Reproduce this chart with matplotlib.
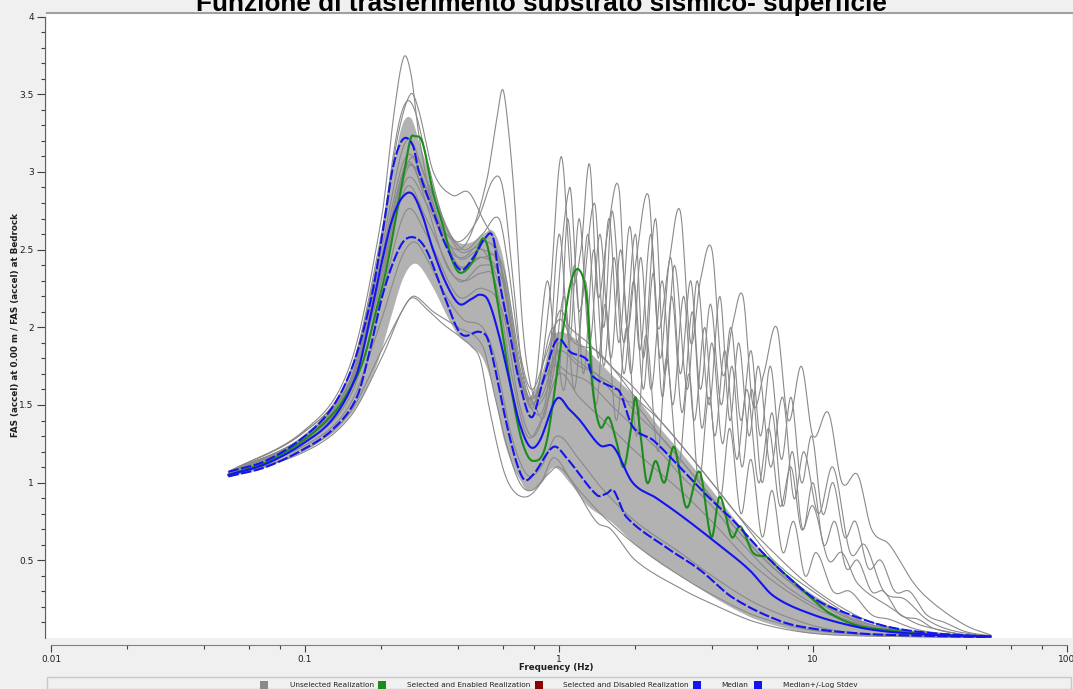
import numpy as np
import matplotlib
matplotlib.use("Agg")
import matplotlib.pyplot as plt
from matplotlib.patches import Rectangle
from matplotlib.ticker import FixedLocator, NullFormatter

# ---------------- data ----------------
title = "Funzione di trasferimento substrato sismico- superficie"
xlabel = "Frequency (Hz)"
ylabel = "FAS (accel) at 0.00 m / FAS (accel) at Bedrock"
x_ticks = [0.01, 0.1, 1, 10, 100]
x_tick_labels = ["0.01", "0.1", "1", "10", "100"]
y_ticks = [0.5, 1, 1.5, 2, 2.5, 3, 3.5, 4]
y_tick_labels = ["0.5", "1", "1.5", "2", "2.5", "3", "3.5", "4"]
legend_labels = ["Unselected Realization", "Selected and Enabled Realization",
                 "Selected and Disabled Realization", "Median", "Median+/-Log Stdev"]

# dense band of unselected realizations
band_freq = [0.05, 0.07, 0.1, 0.13, 0.16, 0.19, 0.22, 0.24, 0.26, 0.28, 0.32, 0.36, 0.40,
             0.45, 0.50, 0.55, 0.60, 0.65, 0.70, 0.75, 0.85, 0.95, 1.1, 1.3, 1.6, 2.0,
             2.5, 3.0, 4.0, 5.0, 6.0, 8.0, 10, 15, 20, 30, 50]
band_low = [1.04, 1.10, 1.22, 1.33, 1.50, 1.75, 2.10, 2.30, 2.40, 2.40, 2.25, 2.08, 1.95,
            1.88, 1.80, 1.60, 1.30, 1.12, 1.02, 0.95, 1.00, 1.10, 1.00, 0.85, 0.75, 0.60,
            0.48, 0.40, 0.27, 0.18, 0.12, 0.06, 0.03, 0.015, 0.01, 0.007, 0.005]
band_high = [1.07, 1.15, 1.32, 1.52, 1.85, 2.40, 3.00, 3.30, 3.35, 3.20, 2.90, 2.65, 2.55,
             2.55, 2.60, 2.62, 2.45, 2.10, 1.75, 1.55, 1.70, 1.95, 1.95, 1.85, 1.70, 1.55,
             1.35, 1.20, 0.95, 0.75, 0.60, 0.40, 0.28, 0.12, 0.07, 0.03, 0.01]

# individual unselected realizations
gA_freq = [0.05, 0.1, 0.15, 0.2, 0.225, 0.245, 0.262, 0.28, 0.32, 0.37, 0.42, 0.5, 0.58,
           0.65, 0.72, 0.8, 0.9, 1.0, 1.2, 1.4, 1.7, 2.0, 2.5, 3, 4, 5, 7, 10, 15, 20, 30, 50]
gA_val = [1.07, 1.34, 1.75, 2.7, 3.4, 3.74, 3.62, 3.25, 2.75, 2.5, 2.45, 2.55, 2.45,
          2.0, 1.6, 1.55, 1.7, 1.85, 1.75, 1.7, 1.55, 1.5, 1.3, 1.15, 0.9, 0.7, 0.45, 0.25,
          0.1, 0.05, 0.02, 0.01]
gB_freq = [0.05, 0.1, 0.15, 0.2, 0.23, 0.26, 0.28, 0.32, 0.38, 0.44, 0.5, 0.57, 0.63, 0.7,
           0.78, 0.88, 1.0, 1.1, 1.3, 1.6, 2.0, 2.5, 3, 4, 5, 7, 10, 15, 20, 30, 50]
gB_val = [1.07, 1.33, 1.7, 2.55, 3.2, 3.5, 3.4, 3.0, 2.85, 2.87, 2.7, 2.5, 2.1, 1.7,
          1.5, 1.7, 2.1, 2.0, 1.9, 1.75, 1.6, 1.4, 1.25, 1.0, 0.8, 0.5, 0.3, 0.12, 0.06,
          0.025, 0.01]
gC_freq = [0.05, 0.1, 0.15, 0.2, 0.24, 0.27, 0.3, 0.35, 0.4, 0.45, 0.52, 0.57, 0.6, 0.63,
           0.67, 0.72, 0.78, 0.85, 0.95, 1.1, 1.3, 1.6, 2.0, 2.5, 3, 4, 5, 7, 10, 15, 20, 30, 50]
gC_val = [1.07, 1.3, 1.65, 2.3, 2.95, 3.1, 2.95, 2.6, 2.5, 2.6, 2.95, 3.35, 3.53, 3.3,
          2.8, 2.0, 1.6, 1.55, 1.75, 1.7, 1.65, 1.5, 1.35, 1.2, 1.05, 0.85, 0.65, 0.4,
          0.22, 0.09, 0.04, 0.015, 0.005]
gD_freq = [0.05, 0.1, 0.15, 0.2, 0.24, 0.265, 0.3, 0.35, 0.4, 0.45, 0.49, 0.53, 0.6, 0.66,
           0.75, 0.85, 0.95, 1.1, 1.4, 1.6, 2, 3, 4, 6, 10, 20, 50]
gD_val = [1.04, 1.2, 1.42, 1.8, 2.1, 2.19, 2.12, 2.02, 1.95, 1.88, 1.79, 1.49, 1.1, 0.95,
          0.91, 1.0, 1.16, 1.03, 0.75, 0.7, 0.5, 0.32, 0.22, 0.1, 0.03, 0.01, 0.003]
gF_freq = [0.05, 0.1, 0.15, 0.2, 0.25, 0.3, 0.4, 0.5, 0.6, 0.7, 0.8, 0.92, 1.02, 1.12,
           1.22, 1.32, 1.42, 1.55, 1.72, 1.85, 2.0, 2.25, 2.45, 2.7, 3.0, 3.3, 3.6, 4.0,
           4.4, 4.8, 5.3, 5.8, 6.4, 7.2, 8, 9, 10, 11.5, 13, 15, 17, 20, 25, 30, 40, 50]
gF_val = [1.06, 1.28, 1.6, 2.3, 2.9, 2.7, 2.3, 2.4, 2.3, 1.7, 1.5, 2.2, 3.1, 2.3,
          2.5, 3.05, 2.2, 2.6, 2.9, 2.0, 2.4, 2.85, 2.0, 2.4, 2.75, 1.9, 2.3, 2.5,
          1.7, 2.0, 2.2, 1.5, 1.7, 2.0, 1.4, 1.75, 1.3, 1.45, 1.0, 1.05, 0.7, 0.6, 0.35,
          0.22, 0.08, 0.02]
gG_freq = [0.05, 0.1, 0.15, 0.2, 0.25, 0.3, 0.4, 0.5, 0.6, 0.7, 0.8, 0.9, 1.0, 1.1, 1.2,
           1.32, 1.45, 1.6, 1.75, 1.92, 2.1, 2.3, 2.55, 2.8, 3.1, 3.4, 3.75, 4.1, 4.5, 5.0,
           5.5, 6.1, 6.7, 7.4, 8.2, 9, 10, 11.5, 13, 15, 20, 25, 30, 40, 50]
gG_val = [1.06, 1.3, 1.62, 2.4, 3.05, 2.85, 2.45, 2.5, 2.35, 1.75, 1.45, 1.6, 2.6, 1.9, 2.7,
          1.9, 2.6, 1.8, 2.5, 1.7, 2.45, 1.6, 2.3, 1.5, 2.2, 1.4, 2.0, 1.3, 1.85, 1.15,
          1.6, 1.0, 1.35, 0.85, 1.1, 0.7, 0.85, 0.5, 0.55, 0.35, 0.2, 0.1, 0.06, 0.02, 0.01]
gH_freq = [0.05, 0.1, 0.15, 0.2, 0.25, 0.3, 0.4, 0.5, 0.6, 0.7, 0.8, 0.95, 1.05, 1.15,
           1.27, 1.4, 1.52, 1.68, 1.85, 2.02, 2.2, 2.45, 2.65, 2.95, 3.25, 3.55, 3.9, 4.3,
           4.7, 5.2, 5.7, 6.3, 6.9, 7.6, 8.4, 9.3, 10.3, 12, 14, 17, 20, 25, 30, 40, 50]
gH_val = [1.05, 1.27, 1.55, 2.2, 2.75, 2.6, 2.2, 2.25, 2.1, 1.5, 1.3, 1.7, 2.2, 1.6,
          2.3, 1.5, 2.15, 1.4, 2.0, 1.3, 1.95, 1.2, 1.8, 1.1, 1.7, 1.0, 1.55, 0.9,
          1.35, 0.8, 1.15, 0.65, 0.95, 0.55, 0.75, 0.4, 0.55, 0.3, 0.3, 0.15, 0.12, 0.06,
          0.035, 0.015, 0.01]
gI_freq = [0.05, 0.1, 0.15, 0.2, 0.25, 0.3, 0.4, 0.5, 0.6, 0.7, 0.8, 0.9, 1.1, 1.2, 1.38,
           1.5, 1.62, 1.8, 2.0, 2.15, 2.4, 2.6, 2.85, 3.2, 3.5, 3.9, 4.3, 4.7, 5.1, 5.6,
           6.1, 6.8, 7.6, 8.4, 9.2, 10.5, 12, 14, 16, 19, 23, 28, 35, 50]
gI_val = [1.06, 1.29, 1.63, 2.45, 3.1, 2.9, 2.4, 2.45, 2.4, 1.8, 1.5, 1.5, 2.9, 2.1, 2.8,
          2.0, 2.75, 1.9, 2.6, 1.8, 2.7, 1.7, 2.4, 1.6, 2.3, 1.5, 2.2, 1.4, 1.9, 1.3,
          1.75, 1.1, 1.55, 0.9, 1.2, 0.8, 1.1, 0.55, 0.6, 0.3, 0.25, 0.12, 0.05, 0.01]
gJ_freq = [0.05, 0.1, 0.15, 0.2, 0.23, 0.26, 0.3, 0.36, 0.42, 0.5, 0.56, 0.65, 0.75, 0.85,
           1.0, 1.2, 1.5, 2, 3, 4, 6, 10, 15, 20, 30, 50]
gJ_val = [1.06, 1.28, 1.6, 2.35, 2.85, 3.05, 2.8, 2.4, 2.3, 2.35, 2.3, 1.7, 1.3, 1.4,
          1.7, 1.55, 1.4, 1.2, 0.95, 0.75, 0.45, 0.2, 0.09, 0.05, 0.02, 0.008]
gK_freq = [0.05, 0.1, 0.15, 0.2, 0.24, 0.27, 0.3, 0.36, 0.42, 0.5, 0.56, 0.65, 0.75, 0.85,
           0.98, 1.2, 1.5, 2, 3, 4, 6, 10, 15, 20, 50]
gK_val = [1.05, 1.24, 1.5, 2.05, 2.45, 2.55, 2.45, 2.2, 2.05, 2.0, 1.8, 1.3, 1.05, 1.1,
          1.3, 1.15, 0.95, 0.75, 0.55, 0.4, 0.22, 0.08, 0.03, 0.02, 0.004]
gL_freq = [0.05, 0.1, 0.15, 0.2, 0.25, 0.27, 0.32, 0.4, 0.5, 0.56, 0.62, 0.7, 0.78, 0.9,
           1.0, 1.2, 1.5, 2, 3, 4, 6, 10, 20, 50]
gL_val = [1.04, 1.21, 1.45, 1.85, 2.15, 2.2, 2.1, 2.0, 1.88, 1.55, 1.25, 1.0, 0.95, 1.05,
          1.1, 0.95, 0.78, 0.6, 0.4, 0.28, 0.14, 0.05, 0.015, 0.004]
gM_freq = [0.05, 0.1, 0.15, 0.2, 0.23, 0.25, 0.27, 0.3, 0.35, 0.42, 0.5, 0.58, 0.63, 0.7,
           0.78, 0.88, 1.0, 1.15, 1.4, 1.7, 2, 2.5, 3, 4, 5, 7, 10, 15, 20, 30, 50]
gM_val = [1.07, 1.33, 1.7, 2.6, 3.25, 3.45, 3.4, 3.1, 2.7, 2.5, 2.6, 2.7, 2.4, 1.85,
          1.6, 1.8, 2.05, 1.9, 1.85, 1.7, 1.55, 1.4, 1.25, 1.0, 0.8, 0.55, 0.32, 0.14,
          0.07, 0.03, 0.01]
gN_freq = [0.05, 0.1, 0.15, 0.2, 0.25, 0.28, 0.33, 0.4, 0.48, 0.55, 0.6, 0.66, 0.72, 0.8,
           0.9, 1.0, 1.15, 1.4, 1.7, 2, 2.5, 3, 4, 5, 7, 10, 15, 20, 30, 50]
gN_val = [1.07, 1.3, 1.65, 2.35, 3.0, 3.0, 2.7, 2.55, 2.7, 2.95, 2.9, 2.3, 1.7, 1.5,
          1.6, 1.9, 1.8, 1.7, 1.6, 1.45, 1.3, 1.15, 0.9, 0.7, 0.45, 0.26, 0.11, 0.06,
          0.025, 0.01]
gO_freq = [0.05, 0.1, 0.15, 0.2, 0.25, 0.3, 0.4, 0.5, 0.6, 0.7, 0.8, 0.95, 1.05, 1.15,
           1.25, 1.37, 1.5, 1.65, 1.8, 1.97, 2.15, 2.35, 2.55, 2.78, 3.05, 3.35, 3.65, 4.0,
           4.4, 4.8, 5.25, 5.75, 6.3, 6.9, 7.6, 8.3, 9.1, 10, 11, 12.2, 13.5, 15, 17, 19,
           22, 26, 30, 40, 50]
gO_val = [1.06, 1.29, 1.62, 2.35, 2.95, 2.8, 2.4, 2.45, 2.3, 1.7, 1.55, 2.0, 1.6, 2.4,
          1.7, 2.5, 1.75, 2.45, 1.7, 2.3, 1.6, 2.35, 1.55, 2.2, 1.45, 2.1, 1.35, 1.9,
          1.25, 1.75, 1.1, 1.6, 1.0, 1.45, 0.85, 1.2, 0.7, 1.0, 0.6, 0.75, 0.45, 0.5, 0.3,
          0.3, 0.15, 0.12, 0.06, 0.02, 0.01]
gP_freq = [0.05, 0.1, 0.15, 0.2, 0.25, 0.3, 0.4, 0.5, 0.6, 0.7, 0.8, 0.9, 1.0, 1.08,
           1.18, 1.3, 1.43, 1.57, 1.72, 1.9, 2.08, 2.3, 2.5, 2.75, 3.0, 3.3, 3.6, 3.95,
           4.35, 4.75, 5.2, 5.7, 6.2, 6.8, 7.5, 8.2, 9.0, 9.9, 10.9, 12, 13.3, 14.7, 16.5,
           18.5, 21, 24, 28, 33, 40, 50]
gP_val = [1.06, 1.3, 1.65, 2.5, 3.2, 2.95, 2.5, 2.5, 2.2, 1.65, 1.6, 2.3, 1.7, 2.7,
          1.9, 2.6, 1.8, 2.7, 1.9, 2.65, 1.85, 2.6, 1.8, 2.45, 1.7, 2.3, 1.6, 2.15,
          1.5, 2.0, 1.4, 1.85, 1.3, 1.75, 1.15, 1.55, 1.0, 1.3, 0.8, 1.0, 0.65, 0.75, 0.45,
          0.5, 0.3, 0.3, 0.15, 0.1, 0.04, 0.015]
gray_curves = [(gA_freq, gA_val), (gB_freq, gB_val), (gC_freq, gC_val),
               (gD_freq, gD_val), (gF_freq, gF_val), (gG_freq, gG_val),
               (gH_freq, gH_val), (gI_freq, gI_val), (gJ_freq, gJ_val),
               (gK_freq, gK_val), (gL_freq, gL_val), (gM_freq, gM_val),
               (gN_freq, gN_val), (gO_freq, gO_val), (gP_freq, gP_val)]

# selected realization (green)
green_freq = [0.05, 0.07, 0.1, 0.13, 0.15, 0.17, 0.19, 0.21, 0.237, 0.26, 0.27, 0.29, 0.32,
              0.35, 0.38, 0.41, 0.46, 0.50, 0.527, 0.585, 0.66, 0.72, 0.79, 0.89, 1.01,
              1.11, 1.20, 1.29, 1.35, 1.45, 1.57, 1.68, 1.80, 1.91, 2.0, 2.09, 2.22, 2.40,
              2.60, 2.84, 3.17, 3.58, 3.98, 4.29, 4.78, 5.17, 5.8, 6.6, 7.4, 8.3, 9.8,
              11.6, 15, 20, 30, 50]
green_val = [1.05, 1.13, 1.28, 1.45, 1.60, 1.79, 2.10, 2.39, 2.86, 3.21, 3.23, 3.19, 2.86,
             2.65, 2.43, 2.35, 2.43, 2.57, 2.50, 2.07, 1.53, 1.25, 1.14, 1.25, 1.85,
             2.28, 2.37, 2.17, 1.64, 1.36, 1.42, 1.27, 1.10, 1.32, 1.55, 1.32, 1.00, 1.14,
             1.00, 1.23, 0.84, 1.07, 0.65, 0.91, 0.65, 0.72, 0.55, 0.52, 0.44, 0.37, 0.26,
             0.16, 0.08, 0.05, 0.02, 0.01]

# median
median_freq = [0.05, 0.07, 0.1, 0.13, 0.16, 0.18, 0.2, 0.22, 0.24, 0.264, 0.29, 0.319, 0.36,
               0.405, 0.45, 0.489, 0.527, 0.58, 0.641, 0.70, 0.77, 0.84, 0.98, 1.1, 1.21,
               1.45, 1.64, 1.95, 2.42, 3.07, 4.18, 5.6, 7.0, 10, 15, 20, 30, 50]
median_val = [1.05, 1.12, 1.26, 1.42, 1.70, 2.05, 2.41, 2.69, 2.83, 2.86, 2.72, 2.50, 2.28,
              2.15, 2.18, 2.21, 2.17, 1.95, 1.64, 1.38, 1.23, 1.27, 1.54, 1.47, 1.40,
              1.24, 1.23, 1.00, 0.90, 0.78, 0.61, 0.44, 0.27, 0.15, 0.07, 0.04, 0.02, 0.01]

# median + log stdev
upper_freq = [0.05, 0.07, 0.1, 0.13, 0.157, 0.184, 0.203, 0.222, 0.243, 0.266, 0.28, 0.319,
              0.36, 0.41, 0.46, 0.51, 0.55, 0.585, 0.64, 0.70, 0.78, 0.86, 0.98, 1.11, 1.29,
              1.35, 1.64, 1.74, 1.95, 2.36, 3.07, 3.86, 4.83, 6.6, 10, 14, 20, 30, 50]
upper_val = [1.07, 1.14, 1.30, 1.50, 1.79, 2.22, 2.63, 3.03, 3.21, 3.17, 3.01, 2.75,
             2.52, 2.37, 2.45, 2.57, 2.58, 2.28, 1.96, 1.64, 1.42, 1.64, 1.92, 1.84, 1.79,
             1.69, 1.61, 1.58, 1.36, 1.27, 1.08, 0.91, 0.76, 0.52, 0.26, 0.15, 0.07, 0.03, 0.01]

# median - log stdev
lower_freq = [0.05, 0.07, 0.1, 0.13, 0.16, 0.18, 0.203, 0.237, 0.266, 0.30, 0.35, 0.41, 0.49,
              0.53, 0.64, 0.72, 0.79, 0.95, 1.07, 1.41, 1.54, 1.64, 1.84, 2.66, 3.58, 4.83,
              7.4, 10, 15, 20, 50]
lower_val = [1.04, 1.10, 1.22, 1.35, 1.55, 1.85, 2.22, 2.52, 2.58, 2.50, 2.22, 1.96, 1.97,
             1.90, 1.29, 1.03, 1.05, 1.23, 1.16, 0.92, 0.93, 0.95, 0.78, 0.58, 0.44, 0.26,
             0.11, 0.06, 0.03, 0.02, 0.005]


def smooth(freq, vals, n=12):
    """Cubic Hermite curve through the read points (in log-frequency), for drawing only."""
    x = np.log10(np.asarray(freq, float))
    y = np.asarray(vals, float)
    m = np.empty_like(y)
    m[1:-1] = (y[2:] - y[:-2]) / (x[2:] - x[:-2])
    m[0] = (y[1] - y[0]) / (x[1] - x[0])
    m[-1] = (y[-1] - y[-2]) / (x[-1] - x[-2])
    xs, ys = [], []
    for i in range(len(x) - 1):
        h = x[i + 1] - x[i]
        t = np.linspace(0, 1, n, endpoint=False)
        h00 = 2 * t ** 3 - 3 * t ** 2 + 1
        h10 = t ** 3 - 2 * t ** 2 + t
        h01 = -2 * t ** 3 + 3 * t ** 2
        h11 = t ** 3 - t ** 2
        xs.append(x[i] + t * h)
        ys.append(h00 * y[i] + h10 * h * m[i] + h01 * y[i + 1] + h11 * h * m[i + 1])
    xs.append([x[-1]])
    ys.append([y[-1]])
    return 10 ** np.concatenate(xs), np.clip(np.concatenate(ys), 0.0, None)


# ---------------- figure ----------------
W, H = 1073, 689
BG = "#f0f0f0"
GRAY = "#8a8a8a"
GREEN = "#1c8c1c"
BLUE = "#1414ee"
DARKRED = "#8b0000"

fig = plt.figure(figsize=(W / 100, H / 100), dpi=100, facecolor=BG)
ax = fig.add_axes([47 / W, 1 - 638 / H, (1072 - 47) / W, (638 - 13) / H])
ax.set_facecolor("white")
ax.set_xscale("log")
ax.set_xlim(10 ** -2.01575, 10 ** 2.0197)
ax.set_ylim(0, 4.023)

bf, bl = smooth(band_freq, band_low)
_, bh = smooth(band_freq, band_high)
ax.fill_between(bf, bl, bh, color="#b2b2b2", lw=0, zorder=1)
for f, v in gray_curves:
    sx, sy = smooth(f, v)
    ax.plot(sx, sy, color=GRAY, lw=0.8, zorder=2)
sx, sy = smooth(green_freq, green_val)
ax.plot(sx, sy, color=GREEN, lw=1.5, zorder=3)
sx, sy = smooth(median_freq, median_val)
ax.plot(sx, sy, color=BLUE, lw=1.5, zorder=4)
for f, v in ((upper_freq, upper_val), (lower_freq, lower_val)):
    sx, sy = smooth(f, v)
    ax.plot(sx, sy, color=BLUE, lw=1.5, dashes=(5, 1.2), zorder=4)

# axes styling
ax.spines["right"].set_visible(False)
ax.spines["top"].set_color("#a0a0a0")
ax.spines["top"].set_linewidth(1.5)
ax.spines["left"].set_position(("outward", 1.5))
ax.spines["bottom"].set_position(("outward", 5.2))
ax.spines["left"].set_color("#606060")
ax.spines["bottom"].set_color("#808080")
ax.spines["bottom"].set_bounds(0.01, 100)
ax.spines["left"].set_bounds(0, 4)

ax.xaxis.set_major_locator(FixedLocator(x_ticks))
ax.set_xticklabels(x_tick_labels)
minors = [m * d for d in (0.01, 0.1, 1, 10) for m in (2, 4, 6, 8)]
ax.xaxis.set_minor_locator(FixedLocator(minors))
ax.xaxis.set_minor_formatter(NullFormatter())
ax.yaxis.set_major_locator(FixedLocator(y_ticks))
ax.set_yticklabels(y_tick_labels)
ax.yaxis.set_minor_locator(FixedLocator([i / 10 for i in range(1, 40)]))
ax.yaxis.set_minor_formatter(NullFormatter())
ax.tick_params(axis="both", which="major", labelsize=6.5, colors="#404040",
               labelcolor="#202020", length=5, width=0.8, pad=2)
ax.tick_params(axis="both", which="minor", colors="#404040", length=3, width=0.8)
ax.tick_params(axis="y", which="major", length=6)

fig.text(541 / W, 1 - 10.5 / H, title, ha="center", va="baseline", fontsize=18.8,
         fontweight="bold", family="Liberation Sans")
fig.text(556 / W, 1 - 667 / H, xlabel, ha="center", va="center", fontsize=6.3,
         fontweight="bold", color="#202020")
fig.text(16 / W, 1 - 325 / H, ylabel, ha="center", va="center", rotation=90,
         fontsize=6.3, fontweight="bold", color="#202020")

# legend box
fig.patches.append(Rectangle((47 / W, 0), (1071 - 47) / W, (H - 677) / H,
                             transform=fig.transFigure, facecolor=BG,
                             edgecolor="#c8c8c8", lw=1))
items = [(264, GRAY, 290), (382, GREEN, 407), (539, DARKRED, 563), (697, BLUE, 721),
         (758, BLUE, 783)]
for (sx_, col, tx), lab in zip(items, legend_labels):
    fig.patches.append(Rectangle(((sx_ - 4) / W, 1 - 689 / H), 8 / W, 8 / H,
                                 transform=fig.transFigure, facecolor=col, edgecolor="none"))
    fig.text(tx / W, 1 - 685 / H, lab, ha="left", va="center", fontsize=5.3, color="#202020")

fig.savefig("out.png", dpi=100, facecolor=BG)
